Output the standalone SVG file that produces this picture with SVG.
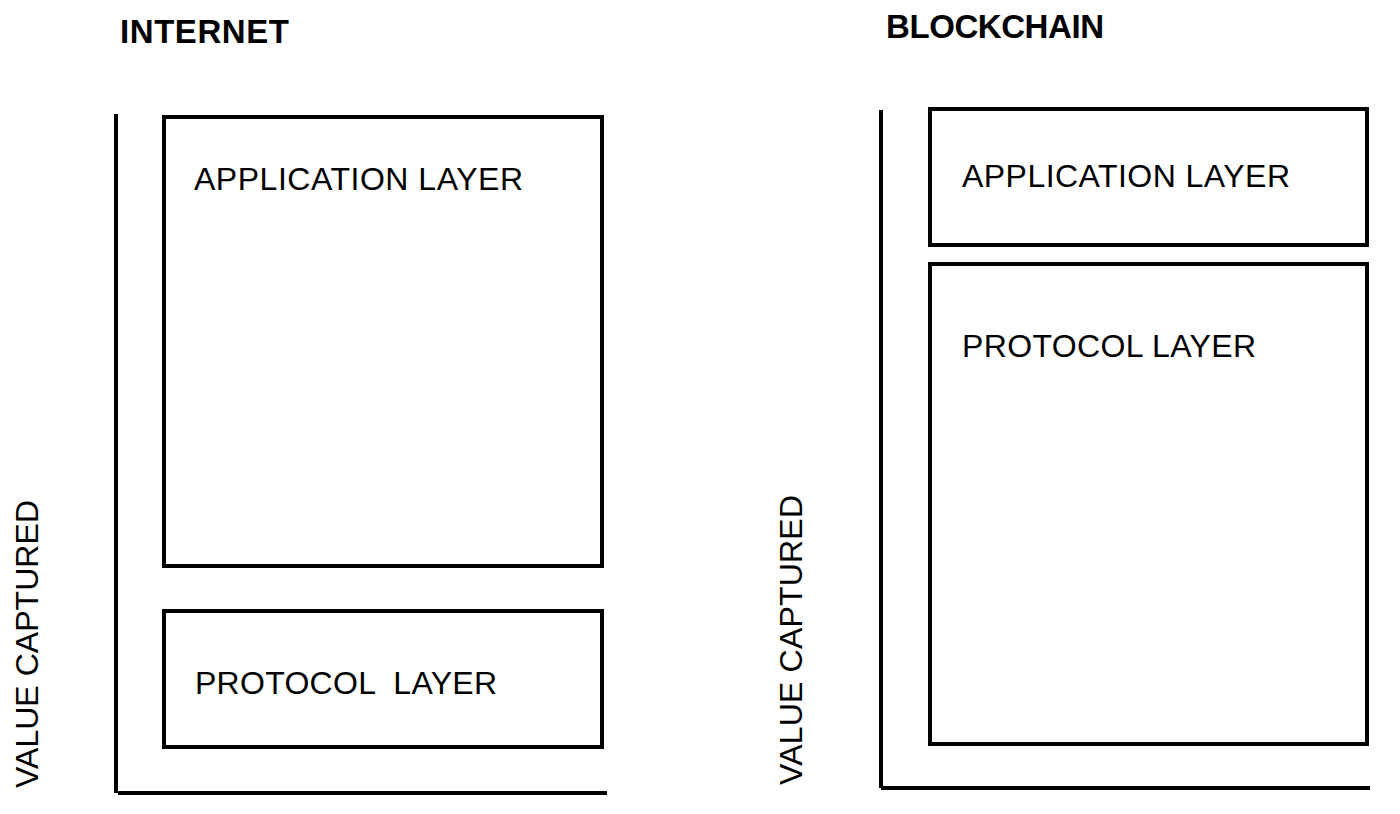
<svg xmlns="http://www.w3.org/2000/svg" width="1400" height="814" viewBox="0 0 1400 814">
<style>
.box{fill:#fff;stroke:#000;stroke-width:4}
.axis{stroke:#000;stroke-width:4;fill:none}
.t{font-family:"Liberation Sans",Arial,sans-serif;font-size:32px;fill:#000;white-space:pre}
.h{font-family:"Liberation Sans",Arial,sans-serif;font-size:33px;font-weight:bold;fill:#000}
</style>
<rect width="1400" height="814" fill="#fff"/>
<g id="connectors">
<line class="axis" x1="116" y1="114" x2="116" y2="793"/>
<line class="axis" x1="118" y1="793" x2="607" y2="793"/>
<line class="axis" x1="881" y1="110" x2="881" y2="788"/>
<line class="axis" x1="881" y1="788" x2="1370" y2="788"/>
</g>
<g id="internet-title"><text class="h" x="120" y="43" textLength="169">INTERNET</text></g>
<g id="internet-app"><rect class="box" x="164" y="117" width="438" height="449"/><text class="t" x="194" y="190" textLength="329">APPLICATION LAYER</text></g>
<g id="internet-proto"><rect class="box" x="164" y="611" width="438" height="136"/><text class="t" x="195" y="694" xml:space="preserve" textLength="302">PROTOCOL  LAYER</text></g>
<g id="internet-ylabel"><text class="t" transform="translate(38,788) rotate(-90)" textLength="288">VALUE CAPTURED</text></g>
<g id="blockchain-title"><text class="h" x="886" y="38" textLength="218">BLOCKCHAIN</text></g>
<g id="blockchain-app"><rect class="box" x="930" y="109" width="437" height="136"/><text class="t" x="962" y="187" textLength="328">APPLICATION LAYER</text></g>
<g id="blockchain-proto"><rect class="box" x="930" y="264" width="437" height="480"/><text class="t" x="962" y="357" textLength="294">PROTOCOL LAYER</text></g>
<g id="blockchain-ylabel"><text class="t" transform="translate(802,785) rotate(-90)" textLength="290">VALUE CAPTURED</text></g>
</svg>
